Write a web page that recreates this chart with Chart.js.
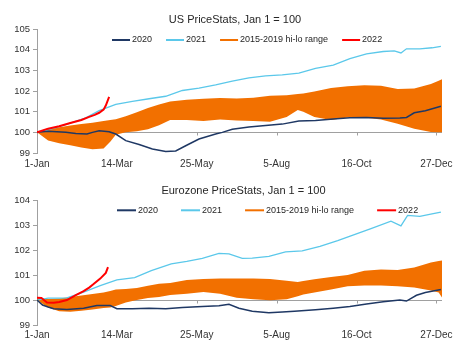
<!DOCTYPE html>
<html>
<head>
<meta charset="utf-8">
<script src="https://cdn.jsdelivr.net/npm/chart.js@4/dist/chart.umd.min.js"></script>
<style>
  html, body { margin: 0; padding: 0; background: #ffffff; }
  body { width: 467px; height: 356px; position: relative; overflow: hidden; }
  .box { position: absolute; left: 0; width: 467px; height: 178px; }
  #boxUS { top: 0; }
  #boxEZ { top: 178px; }
</style>
</head>
<body>
<div class="box" id="boxUS"><canvas id="cUS" width="467" height="178"></canvas></div>
<div class="box" id="boxEZ"><canvas id="cEZ" width="467" height="178"></canvas></div>
<script>
// ---------- tick labels ----------
const tickDays = [0, 72, 144, 216, 288, 360];
const tickLabels = ['1-Jan', '14-Mar', '25-May', '5-Aug', '16-Oct', '27-Dec'];
const seriesNames = ['2020', '2021', '2015-2019 hi-lo range', '2022'];

// ---------- US PriceStats ----------
const us2020Days = [0,10,26,35,45,50,56,65,71,80,92,104,116,125,134,146,161,167,176,191,206,221,236,251,267,282,297,312,327,333,340,350,364];
const us2020 = [100,100.05,100.0,99.95,99.92,100.0,100.08,100.03,99.92,99.6,99.41,99.19,99.07,99.1,99.35,99.68,99.92,100.0,100.15,100.26,100.33,100.4,100.55,100.58,100.65,100.71,100.72,100.68,100.7,100.72,100.95,101.05,101.27];
const us2021Days = [0,10,26,44,56,71,86,101,116,131,146,161,176,191,206,221,236,251,267,282,297,312,322,328,333,345,356,364];
const us2021 = [100,100.12,100.37,100.7,101.05,101.36,101.5,101.63,101.75,102.03,102.14,102.3,102.48,102.64,102.74,102.79,102.87,103.1,103.26,103.57,103.8,103.92,103.95,103.85,104.05,104.05,104.1,104.17];
const us2022Days = [0,10,20,30,40,47,52,56,60,62,65];
const us2022 = [100,100.18,100.3,100.45,100.6,100.75,100.85,100.95,101.1,101.3,101.72];
const bandDays = [0,10,20,30,40,50,60,66,71,80,90,100,110,120,135,150,165,180,195,210,225,235,240,250,265,280,295,310,325,340,355,362,365];
const usHi = [100,100.2,100.25,100.33,100.4,100.47,100.55,100.6,100.63,100.78,100.98,101.18,101.35,101.5,101.58,101.63,101.66,101.64,101.68,101.77,101.8,101.86,101.88,101.98,102.15,102.24,102.28,102.26,102.1,102.12,102.35,102.5,102.58];
const usLo = [100,99.6,99.47,99.38,99.27,99.18,99.22,99.55,99.88,100.0,100.06,100.15,100.35,100.6,100.6,100.55,100.62,100.57,100.55,100.52,100.75,101.08,101.0,100.75,100.6,100.72,100.72,100.62,100.42,100.18,100.02,100.0,100.0];

// ---------- Eurozone PriceStats ----------
const ez2020Days = [0,5,10,15,27,42,54,66,72,86,101,116,131,149,164,173,182,194,209,221,232,251,267,282,297,312,327,333,342,350,364];
const ez2020 = [100,99.8,99.72,99.65,99.62,99.67,99.78,99.78,99.65,99.65,99.67,99.65,99.7,99.74,99.77,99.83,99.67,99.55,99.49,99.52,99.55,99.61,99.67,99.74,99.84,99.93,100.0,99.96,100.19,100.3,100.42];
const ez2021Days = [0,10,20,27,42,57,72,88,103,121,135,149,164,173,185,194,209,224,239,255,271,286,301,319,328,334,345,356,364];
const ez2021 = [100,100.08,100.08,100.09,100.32,100.58,100.81,100.9,101.18,101.45,101.55,101.67,101.87,101.85,101.67,101.68,101.75,101.93,101.97,102.15,102.38,102.62,102.86,103.16,102.97,103.39,103.35,103.45,103.52];
const ez2022Days = [0,4,9,15,20,27,35,42,47,51,57,62,64];
const ez2022 = [100.09,100.08,99.9,99.89,99.92,100.0,100.2,100.36,100.5,100.64,100.86,101.09,101.32];
const ezHi = [100.06,100.04,100.06,100.12,100.18,100.24,100.3,100.36,100.42,100.44,100.48,100.57,100.65,100.68,100.8,100.84,100.86,100.86,100.86,100.84,100.77,100.72,100.76,100.83,100.92,101.0,101.17,101.22,101.2,101.3,101.5,101.56,101.58];
const ezLo = [100,99.7,99.55,99.53,99.57,99.62,99.68,99.7,99.76,99.9,100.0,100.08,100.12,100.2,100.25,100.32,100.25,100.09,100.03,99.99,100.03,100.15,100.22,100.3,100.42,100.55,100.58,100.58,100.55,100.5,100.38,100.3,100.1];

// ---------- styles ----------
const C_2020 = '#1f3864';
const C_2021 = '#5bc8ea';
const C_BAND = '#f27000';
const C_2022 = '#ff0000';
const FONT = '"Liberation Sans", Arial, sans-serif';

function pts(days, vals) { return days.map((d, i) => ({ x: d, y: vals[i] })); }

const legendPlugin = {
  id: 'inLegend',
  afterDraw(chart, args, o) {
    const ctx = chart.ctx;
    ctx.save();
    ctx.font = o.fontSize + 'px ' + FONT;
    ctx.textBaseline = 'middle';
    ctx.textAlign = 'left';
    let x = o.x;
    chart.data.datasets.forEach(ds => {
      if (!ds.label) return;
      ctx.strokeStyle = ds.legendColor || ds.borderColor;
      ctx.lineWidth = 2;
      ctx.beginPath();
      ctx.moveTo(x, o.y);
      ctx.lineTo(x + o.lineLen, o.y);
      ctx.stroke();
      x += o.lineLen + o.gap;
      ctx.fillStyle = '#262626';
      ctx.fillText(ds.label, x, o.y);
      x += ctx.measureText(ds.label).width + o.spacing;
    });
    ctx.restore();
  }
};

const baseTicksPlugin = {
  id: 'baseTicks',
  beforeDatasetsDraw(chart) {
    const xs = chart.scales.x, ys = chart.scales.y;
    const y0 = Math.round(ys.getPixelForValue(100)) + 0.5;
    const ctx = chart.ctx;
    ctx.save();
    ctx.strokeStyle = '#a0a0a0';
    ctx.lineWidth = 1;
    xs.ticks.forEach(t => {
      const px = Math.round(xs.getPixelForValue(t.value)) + 0.5;
      ctx.beginPath();
      ctx.moveTo(px, y0);
      ctx.lineTo(px, y0 + 3);
      ctx.stroke();
    });
    ctx.restore();
  }
};

function makeChart(id, cfg) {
  const datasets = [
    { label: seriesNames[0], data: pts(cfg.d2020, cfg.v2020), borderColor: C_2020, borderWidth: 1.5, order: 1 },
    { label: seriesNames[1], data: pts(cfg.d2021, cfg.v2021), borderColor: C_2021, borderWidth: 1.3, order: 2 },
    { label: seriesNames[2], data: pts(bandDays, cfg.hi), borderColor: 'rgba(0,0,0,0)', borderWidth: 0,
      legendColor: C_BAND, backgroundColor: C_BAND, fill: 4, order: 3 },
    { label: seriesNames[3], data: pts(cfg.d2022, cfg.v2022), borderColor: C_2022, borderWidth: 2, order: 0 },
    { label: '', data: pts(bandDays, cfg.lo), borderColor: 'rgba(0,0,0,0)', borderWidth: 0, fill: false, order: 4 }
  ];
  datasets.forEach(d => { d.pointRadius = 0; d.tension = 0; });
  return new Chart(document.getElementById(id), {
    type: 'line',
    data: { datasets },
    plugins: [legendPlugin, baseTicksPlugin],
    options: {
      responsive: false,
      animation: false,
      events: [],
      layout: { padding: { left: 3, right: cfg.padRight, top: 0, bottom: cfg.padBottom } },
      plugins: {
        legend: { display: false },
        tooltip: { enabled: false },
        title: {
          display: true, text: cfg.title, color: '#262626',
          font: { family: FONT, size: 11, weight: 'normal' },
          padding: { top: cfg.titleTop, bottom: cfg.titleBottom }
        },
        inLegend: cfg.legend
      },
      scales: {
        x: {
          type: 'linear', min: 0, max: 365,
          afterBuildTicks: s => { s.ticks = tickDays.map(v => ({ value: v })); },
          grid: { display: false, drawTicks: false },
          border: { display: false },
          ticks: {
            padding: cfg.xPad, color: '#333333', maxRotation: 0, autoSkip: false,
            font: { family: FONT, size: 10 },
            callback: v => { const i = tickDays.indexOf(v); return i >= 0 ? tickLabels[i] : ''; }
          }
        },
        y: {
          min: 99, max: cfg.yMax,
          afterFit: s => { s.width = 34; },
          grid: {
            color: c => (c.tick && c.tick.value === 100) ? '#a0a0a0' : 'rgba(0,0,0,0)',
            tickColor: '#a0a0a0', tickLength: 4, drawOnChartArea: true
          },
          border: { display: true, color: '#a0a0a0', width: 1 },
          ticks: { stepSize: 1, padding: 3, color: '#333333', font: { family: FONT, size: 9.5 } }
        },
        yr: {
          position: 'right', display: true, min: 99, max: cfg.yMax,
          afterFit: s => { s.width = 25 - cfg.padRight; },
          grid: { display: false, drawTicks: false },
          border: { display: false },
          ticks: { display: false }
        }
      }
    }
  });
}

makeChart('cUS', {
  title: 'US PriceStats, Jan 1 = 100', yMax: 105, padRight: 0,
  titleTop: 13, titleBottom: 3, xPad: 5, padBottom: 3,
  d2020: us2020Days, v2020: us2020, d2021: us2021Days, v2021: us2021,
  d2022: us2022Days, v2022: us2022, hi: usHi, lo: usLo,
  legend: { x: 112, y: 40, lineLen: 18, gap: 2, spacing: 14, fontSize: 9 }
});
makeChart('cEZ', {
  title: 'Eurozone PriceStats, Jan 1 = 100', yMax: 104, padRight: -17,
  titleTop: 6, titleBottom: 3, xPad: 4.5, padBottom: 10,
  d2020: ez2020Days, v2020: ez2020, d2021: ez2021Days, v2021: ez2021,
  d2022: ez2022Days, v2022: ez2022, hi: ezHi, lo: ezLo,
  legend: { x: 117, y: 32.3, lineLen: 19, gap: 2, spacing: 23, fontSize: 9 }
});
</script>
</body>
</html>
